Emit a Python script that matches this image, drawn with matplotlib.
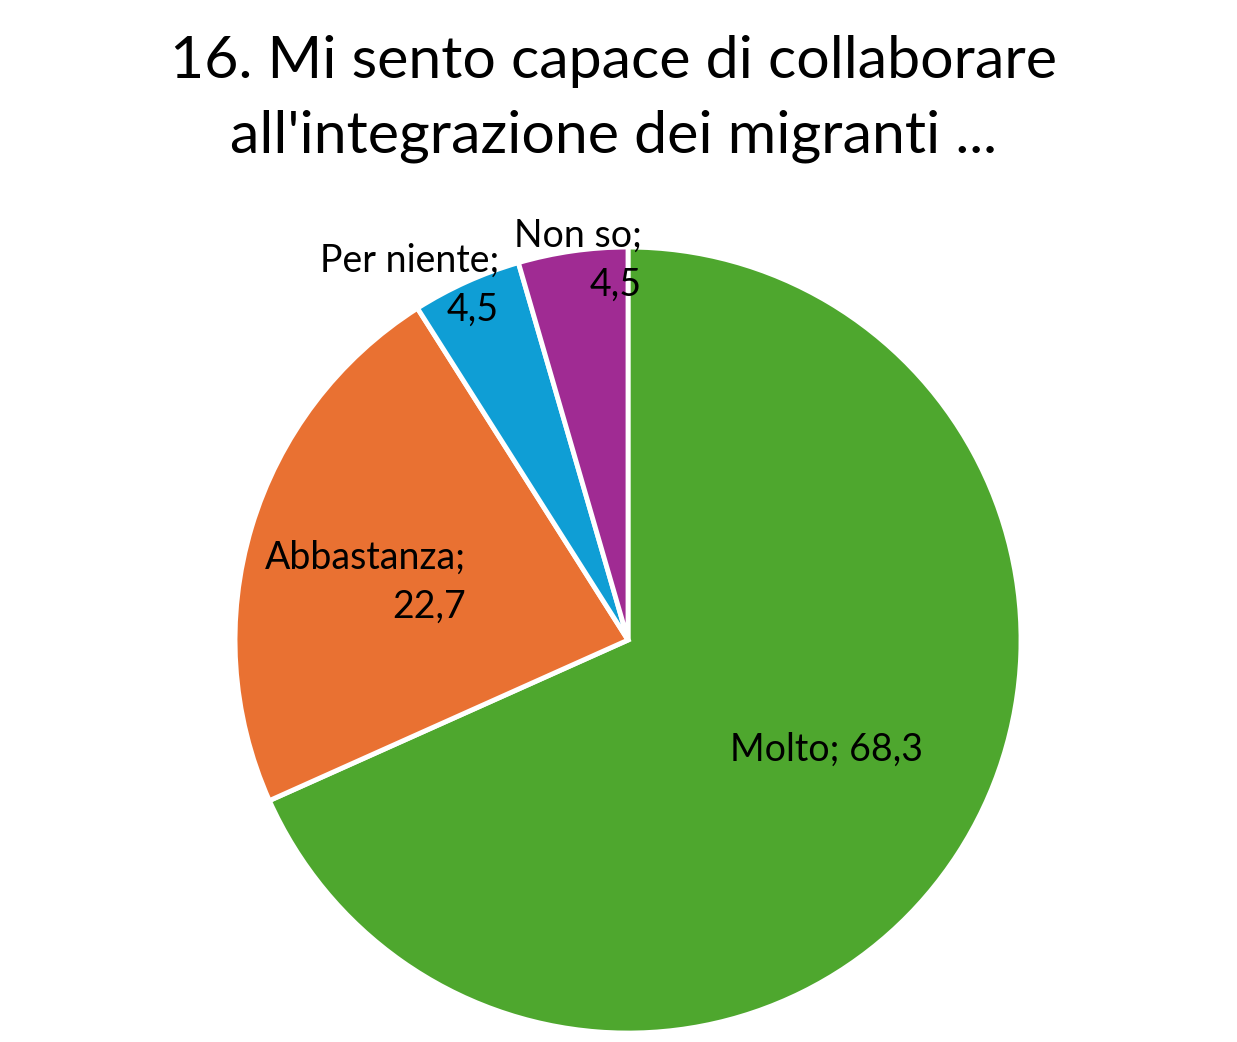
"""Pie chart: 16. Mi sento capace di collaborare all'integrazione dei migranti ..."""
import numpy as np
import matplotlib.pyplot as plt

plt.rcParams["font.family"] = ["Lato", "DejaVu Sans"]

categories = ["Molto", "Abbastanza", "Per niente", "Non so"]
values = [68.3, 22.7, 4.5, 4.5]
value_labels = ["68,3", "22,7", "4,5", "4,5"]
colors = ["#4EA72E", "#E97132", "#0F9ED5", "#A02B93"]

# label placement: radius factor, pixel offset, one/two lines
label_style = {
    "Molto": dict(r=0.58, off=(7, 14), sep="; "),
    "Abbastanza": dict(r=0.685, off=(-5, -20), sep=";\n"),
    "Per niente": dict(r=1.03, off=(-52, -14), sep=";\n"),
    "Non so": dict(r=0.98, off=(4, -1), sep=";\n"),
}


def main():
    fig = plt.figure(figsize=(12.37, 10.42), dpi=100)
    ax = fig.add_axes([0.190, 0.0086, 0.6354, 0.7543])

    wedges, _ = ax.pie(
        values,
        colors=colors,
        startangle=90,
        counterclock=False,
        wedgeprops=dict(edgecolor="white", linewidth=3.5),
    )
    ax.set_xlim(-1, 1)
    ax.set_ylim(-1, 1)
    ax.set_aspect("equal")
    ax.axis("off")

    for w, cat, lab in zip(wedges, categories, value_labels):
        st = label_style[cat]
        mid = np.deg2rad((w.theta1 + w.theta2) / 2)
        xy = (st["r"] * np.cos(mid), st["r"] * np.sin(mid))
        ax.annotate(
            cat + st["sep"] + lab,
            xy=xy,
            xytext=st["off"],
            textcoords="offset pixels",
            ha="center",
            va="center",
            multialignment="right",
            fontsize=27,
            color="black",
            linespacing=1.45,
        )

    fig.text(
        0.496, 0.905,
        "16. Mi sento capace di collaborare\nall'integrazione dei migranti ...",
        ha="center", va="center", fontsize=42.5, linespacing=1.5,
    )

    fig.savefig("out.png", dpi=100)


if __name__ == "__main__":
    main()
